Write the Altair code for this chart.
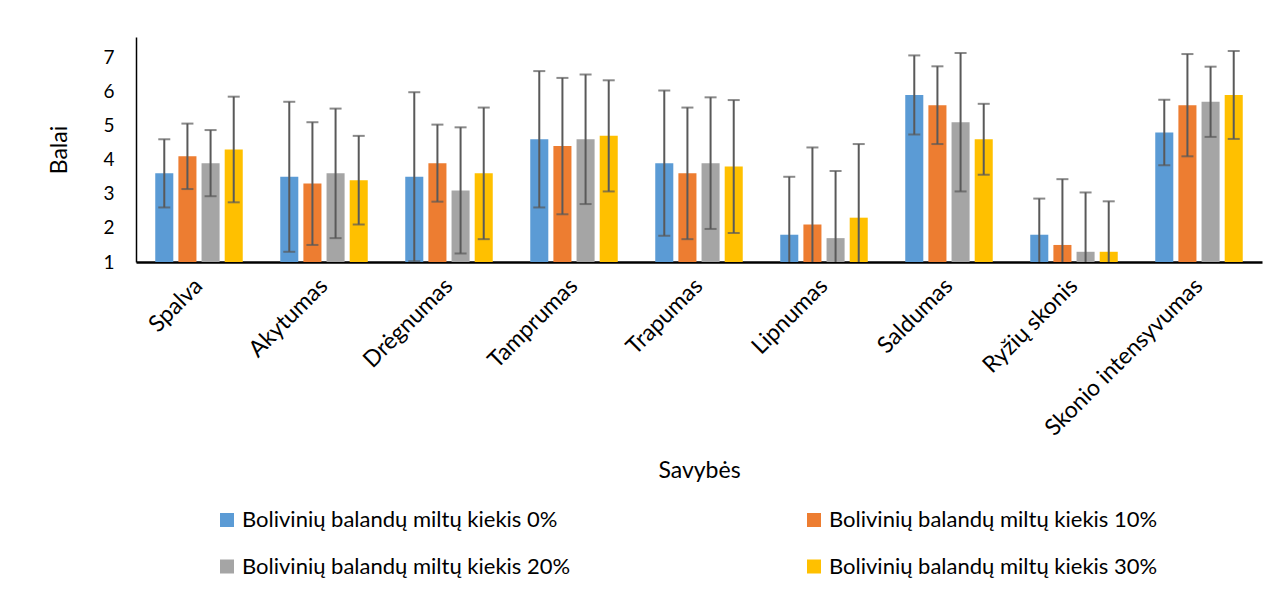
import altair as alt
import pandas as pd

categories = ["Spalva", "Akytumas", "Drėgnumas", "Tamprumas", "Trapumas",
              "Lipnumas", "Saldumas", "Ryžių skonis", "Skonio intensyvumas"]
series = ["Bolivinių balandų miltų kiekis 0%", "Bolivinių balandų miltų kiekis 10%",
          "Bolivinių balandų miltų kiekis 20%", "Bolivinių balandų miltų kiekis 30%"]
colors = ["#5B9BD5", "#ED7D31", "#A5A5A5", "#FFC000"]

mean_0 = [3.6, 3.5, 3.5, 4.6, 3.9, 1.8, 5.9, 1.8, 4.8]
mean_10 = [4.1, 3.3, 3.9, 4.4, 3.6, 2.1, 5.6, 1.5, 5.6]
mean_20 = [3.9, 3.6, 3.1, 4.6, 3.9, 1.7, 5.1, 1.3, 5.7]
mean_30 = [4.3, 3.4, 3.6, 4.7, 3.8, 2.3, 4.6, 1.3, 5.9]

sd_0 = [1.0, 2.2, 2.48, 2.0, 2.13, 1.7, 1.16, 1.06, 0.96]
sd_10 = [0.96, 1.8, 1.13, 2.0, 1.93, 2.26, 1.14, 1.93, 1.5]
sd_20 = [0.97, 1.9, 1.85, 1.9, 1.93, 1.97, 2.03, 1.74, 1.03]
sd_30 = [1.55, 1.3, 1.93, 1.63, 1.95, 2.16, 1.04, 1.48, 1.29]

y_ticks = [1, 2, 3, 4, 5, 6, 7]

rows = []
for s, m, d in zip(series, [mean_0, mean_10, mean_20, mean_30], [sd_0, sd_10, sd_20, sd_30]):
    for c, mv, sv in zip(categories, m, d):
        rows.append({"Savybė": c, "Serija": s, "mean": mv, "lo": mv - sv, "hi": mv + sv})
df = pd.DataFrame(rows)

FONT = "Lato"
FS = 22

# legend fills column-first, so order the colour domain to read row-wise like the original
legend_order = [series[0], series[2], series[1], series[3]]
legend_colors = [colors[0], colors[2], colors[1], colors[3]]

x_axis = alt.Axis(title="Savybės", labelAngle=-45, labelAlign="right",
                  labelBaseline="middle", labelPadding=20, labelLimit=400,
                  labelFontSize=23, titleFontSize=23, titlePadding=19)
y_axis = alt.Axis(title="Balai", values=y_ticks, labelOverlap=False,
                  labelFontSize=19, titleFontSize=23,
                  labelPadding=22, titlePadding=31)

xoff = alt.XOffset("Serija:N", sort=series,
                   scale=alt.Scale(paddingInner=0.22, paddingOuter=0))
y_scale = alt.Scale(domain=[1, 7.6], nice=False, zero=False)
x_scale = alt.Scale(paddingInner=0.3, paddingOuter=0.154)


def xenc():
    return alt.X("Savybė:N", sort=categories, scale=x_scale, axis=x_axis)


bars = alt.Chart(df).mark_bar().encode(
    x=xenc(),
    xOffset=xoff,
    y=alt.Y("mean:Q", scale=y_scale, axis=y_axis),
    y2=alt.datum(1),
    color=alt.Color("Serija:N",
                    scale=alt.Scale(domain=legend_order, range=legend_colors),
                    legend=alt.Legend(title=None, orient="none", legendX=80, legendY=472,
                                      columns=2, columnPadding=232, rowPadding=24.5,
                                      symbolType="square", symbolSize=196,
                                      symbolStrokeWidth=0, labelFontSize=FS,
                                      labelOffset=4,
                                      labelFont=FONT, labelColor="black",
                                      labelLimit=600, gridAlign="all")),
)

rules = alt.Chart(df).mark_rule(color="#595959", strokeWidth=2, clip=True).encode(
    x=xenc(),
    xOffset=xoff,
    y=alt.Y("lo:Q", scale=y_scale, axis=y_axis),
    y2="hi:Q",
)
caps_hi = alt.Chart(df).mark_tick(color="#595959", thickness=2, size=12, clip=True).encode(
    x=xenc(),
    xOffset=xoff,
    y=alt.Y("hi:Q", scale=y_scale, axis=y_axis),
)
caps_lo = alt.Chart(df).mark_tick(color="#595959", thickness=2, size=12, clip=True).encode(
    x=xenc(),
    xOffset=xoff,
    y=alt.Y("lo:Q", scale=y_scale, axis=y_axis),
)

chart = alt.layer(bars, rules, caps_hi, caps_lo).properties(
    width=1126, height=225, background="white",
    padding={"left": 40, "top": 29, "right": 5, "bottom": 5},
).configure_view(stroke=None).configure_axis(
    grid=False, ticks=False, domainColor="black",
    labelFont=FONT, titleFont=FONT, labelFontSize=FS, titleFontSize=FS,
    titleFontWeight="normal", labelColor="black", titleColor="black",
).configure_axisX(domainWidth=2.5).configure_axisY(domainWidth=1.5)

chart.save("out.html", embed_options={"renderer": "svg", "actions": False})
